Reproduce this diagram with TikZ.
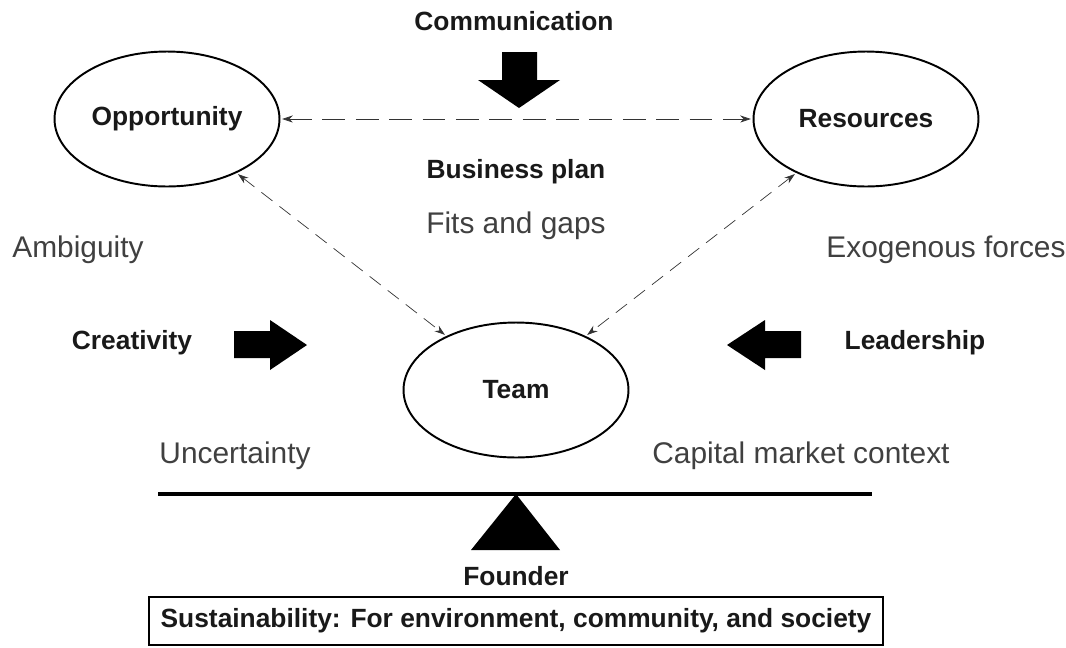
\documentclass[tikz,border=0pt]{standalone}
\usepackage{fontspec}
\setmainfont{Liberation Sans}
\usetikzlibrary{shapes.geometric,arrows.meta}
\begin{document}
\begin{tikzpicture}[x=0.02cm,y=-0.02cm,
    bubble/.style={draw,ellipse,line width=1.1pt,minimum width=4.5cm,minimum height=2.7cm,inner sep=0pt},
    bold/.style={font=\fontsize{15}{17}\selectfont\bfseries,text=black!90},
    plain/.style={font=\fontsize{17}{19}\selectfont,text=black!75},
    link/.style={thin,black!80,{Stealth[length=6pt,width=4pt]}-{Stealth[length=6pt,width=4pt]},shorten <=1pt,shorten >=1pt}]
                \useasboundingbox (0,0) rectangle (1066,647) ;
                \node [bold] (comm) at (514,21) {Communication} ;
                \fill (502,52) -- (537,52) -- (537,80) -- (560,80) -- (519,108) -- (478,80) -- (502,80) -- cycle ;
                \node [bubble,bold] (opp) at (167,119) {Opportunity} ;
                \node [bubble,bold] (res) at (866,119) {Resources} ;
                \node [bubble,bold] (team) at (516,390) {Team} ;
                \draw [link,dash pattern=on 13pt off 6pt] (opp) -- (res) ;
                \draw [link,dash pattern=on 8pt off 5pt] (opp) -- (team) ;
                \draw [link,dash pattern=on 8pt off 5pt] (res) -- (team) ;
                \node [bold] (plan) at (516,172) {Business plan} ;
                \node [plain] (fits) at (516,226) {Fits and gaps} ;
                \node [plain] (amb) at (78,250) {Ambiguity} ;
                \node [plain] (exo) at (946,250) {Exogenous forces} ;
                \node [bold] (crea) at (132,343) {Creativity} ;
                \fill (234,331) -- (270,331) -- (270,320) -- (307,345) -- (270,370) -- (270,358) -- (234,358) -- cycle ;
                \node [bold] (lead) at (915,343) {Leadership} ;
                \fill (801,331) -- (765,331) -- (765,320) -- (727,345) -- (765,370) -- (765,358) -- (801,358) -- cycle ;
                \node [plain] (unc) at (235,456) {Uncertainty} ;
                \node [plain] (cap) at (801,456) {Capital market context} ;
                \draw [line width=2.2pt] (158,494) -- (872,494) ;
                \fill (516,494) -- (560,550) -- (471,550) -- cycle ;
                \node [bold] (found) at (516,576) {Founder} ;
                \node [bold,draw,line width=1.1pt,minimum width=14.7cm,minimum height=0.96cm] (sust) at (516,621) {Sustainability: For environment, community, and society} ;
            \end{tikzpicture}
\end{document}
